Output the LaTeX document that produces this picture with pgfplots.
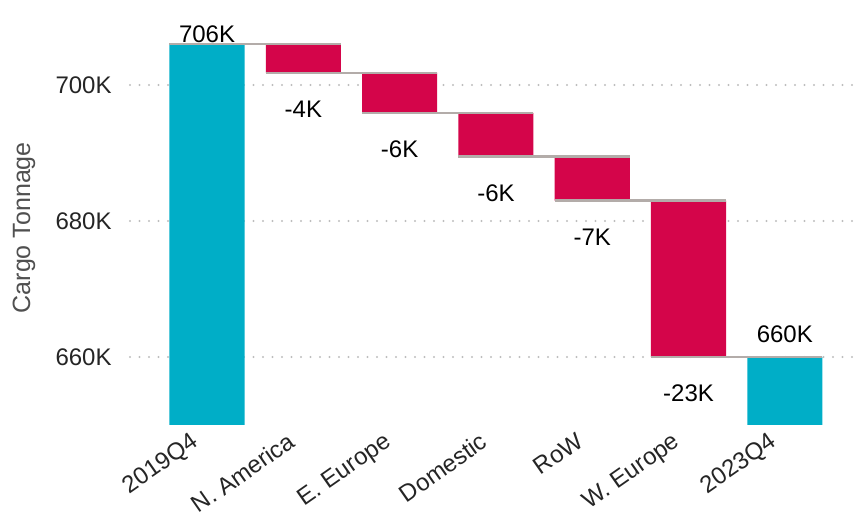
\documentclass[border=0pt]{standalone}
\usepackage{fontspec}
\setmainfont{Liberation Sans}
\usepackage{pgfplots}
\pgfplotsset{compat=1.18}
\usepackage{pgfplotstable}

\definecolor{wfteal}{HTML}{00AEC7}
\definecolor{wfred}{HTML}{D4054A}
\definecolor{conn}{HTML}{B3ACA9}
\definecolor{gridc}{HTML}{BDBDBD}
\definecolor{ticktxt}{HTML}{252525}
\definecolor{labtxt}{HTML}{505050}

% waterfall: invisible base, teal totals, red decreases
\pgfplotstableread{
x base total delta
0 0     706.0 0
1 701.8 0     4.2
2 695.9 0     5.9
3 689.5 0     6.4
4 683.0 0     6.5
5 660.0 0     23.0
6 0     660.0 0
}\bars

\pgfplotstableread{
x y
-0.39 706.0
1.39 706.0
nan nan
0.61 701.8
2.39 701.8
nan nan
1.61 695.9
3.39 695.9
nan nan
2.61 689.5
4.39 689.5
nan nan
3.61 683.0
5.39 683.0
nan nan
4.61 660.0
6.39 660.0
}\connectors

\pgfplotstableread{
x y lab
0 707.45 706K
1 696.4 -4K
2 690.5 -6K
3 684.1 -6K
4 677.6 -7K
5 654.7 -23K
6 663.3 660K
}\labels

\pgfplotsset{
  wf/.style={
    scale only axis,
    width=364bp, height=197.2bp,
    xmin=-0.8, xmax=6.76,
    ymin=650, ymax=708,
    at={(0,0)}, anchor=south west,
  }
}

\begin{document}
\begin{tikzpicture}
\begin{axis}[
  wf,
  ybar stacked,
  bar width=0.78,
  axis line style={draw=none},
  major tick length=0pt,
  tick style={draw=none},
  ymajorgrids,
  grid style={gridc, line width=1.1bp, line cap=round, dash pattern=on 0pt off 4.75bp},
  ytick={660,680,700},
  yticklabels={660K,680K,700K},
  xtick={0,1,2,3,4,5,6},
  xticklabels={2019Q4,N. America,E. Europe,Domestic,RoW,W. Europe,2023Q4},
  yticklabel style={font=\fontsize{12bp}{14bp}\selectfont, text=ticktxt, inner sep=0pt, xshift=-9bp},
  xticklabel style={font=\fontsize{12bp}{14bp}\selectfont, text=ticktxt, inner sep=0pt,
    xshift=-8.5bp, yshift=-3bp, rotate=35, anchor=north east},
  ylabel={Cargo Tonnage},
  ylabel style={font=\fontsize{12.5bp}{14bp}\selectfont, text=labtxt,
    at={(axis description cs:-0.1456,0.5)}, anchor=center},
]
\addplot[draw=none, fill=none] table[x=x, y=base] {\bars};
\addplot[draw=none, fill=wfteal] table[x=x, y=total] {\bars};
\addplot[draw=none, fill=wfred] table[x=x, y=delta] {\bars};
\coordinate (sw) at (rel axis cs:0,0);
\coordinate (ne) at (rel axis cs:1,1);
\end{axis}
\begin{axis}[
  wf,
  hide axis,
  clip=false,
]
\addplot[conn, line width=1.2bp, unbounded coords=jump] table[x=x, y=y] {\connectors};
\addplot[draw=none, mark=none, nodes near coords, point meta=explicit symbolic,
  nodes near coords style={anchor=center, font=\fontsize{12bp}{14bp}\selectfont, text=black}]
  table[x=x, y=y, meta=lab] {\labels};
\end{axis}
\pgfresetboundingbox
\useasboundingbox ([shift={(-65bp,-45.5bp)}]sw) rectangle ([shift={(0bp,15.3bp)}]ne);
\end{tikzpicture}
\end{document}
